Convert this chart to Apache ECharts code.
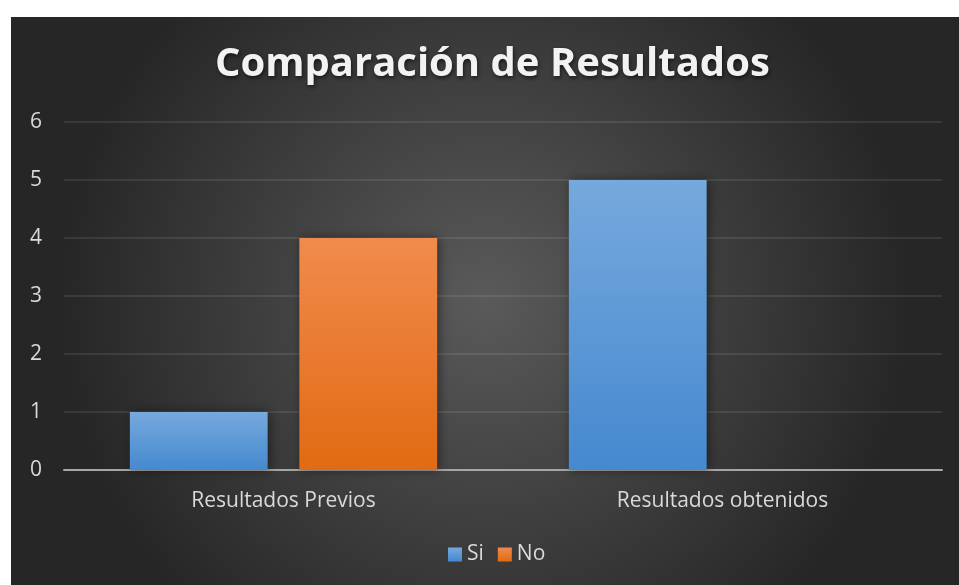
<!DOCTYPE html>
<html>
<head>
<meta charset="utf-8">
<script src="https://cdn.jsdelivr.net/npm/echarts@6/dist/echarts.min.js"></script>
<style>
  html, body { margin: 0; padding: 0; background: #fff; }
  #chart { position: absolute; left: 11px; top: 17px; width: 948px; height: 568px; }
</style>
</head>
<body>
<div id="chart"></div>
<script>
// Values.
const categories = ['Resultados Previos', 'Resultados obtenidos'];
const siValues = [1, 5];
const noValues = [4, 0];
const yTicks = [0, 1, 2, 3, 4, 5, 6];

const grad = (top, bottom) => new echarts.graphic.LinearGradient(0, 0, 0, 1, [
  { offset: 0, color: top }, { offset: 1, color: bottom }
]);

const chart = echarts.init(document.getElementById('chart'));
chart.setOption({
  animation: false,
  backgroundColor: {
    type: 'radial', x: 0.5, y: 0.5, r: 0.75,
    colorStops: [{ offset: 0, color: '#5a5a5a' }, { offset: 1, color: '#262626' }]
  },
  textStyle: { fontFamily: 'Open Sans' },
  title: {
    text: 'Comparación de Resultados',
    left: 204, top: 28, padding: 0,
    textStyle: {
      fontSize: 40, fontWeight: 'bold', color: '#f2f2f2', fontFamily: 'Open Sans',
      textShadowColor: 'rgba(0,0,0,0.6)', textShadowBlur: 4, textShadowOffsetX: 1, textShadowOffsetY: 2
    }
  },
  legend: {
    left: 437, top: 527, padding: 0, itemWidth: 14, itemHeight: 14, itemGap: 14,
    icon: 'rect',
    textStyle: { color: '#d9d9d9', fontSize: 21 },
    data: ['Si', 'No']
  },
  grid: { left: 53, right: 17, top: 105, bottom: 115 },
  xAxis: {
    type: 'category', data: categories,
    axisTick: { show: false },
    axisLine: { lineStyle: { color: '#a6a6a6', width: 2 } },
    axisLabel: { color: '#d9d9d9', fontSize: 21, margin: 21 }
  },
  yAxis: {
    type: 'value', min: yTicks[0], max: yTicks[yTicks.length - 1], interval: 1,
    axisLine: { show: false }, axisTick: { show: false },
    axisLabel: { color: '#d9d9d9', fontSize: 21, margin: 28, align: 'center' },
    splitLine: { lineStyle: { color: 'rgba(255,255,255,0.12)', width: 1.5 } }
  },
  series: [
    {
      name: 'Si', type: 'bar', data: siValues,
      barGap: '23%', barCategoryGap: '30%',
      itemStyle: {
        color: grad('#76a9dd', '#4589cf'),
        shadowColor: 'rgba(0,0,0,0.45)', shadowBlur: 10, shadowOffsetX: 2, shadowOffsetY: 0
      }
    },
    {
      name: 'No', type: 'bar', data: noValues,
      itemStyle: {
        color: grad('#f08b4d', '#e26a12'),
        shadowColor: 'rgba(0,0,0,0.45)', shadowBlur: 10, shadowOffsetX: 2, shadowOffsetY: 0
      }
    }
  ]
});
</script>
</body>
</html>
